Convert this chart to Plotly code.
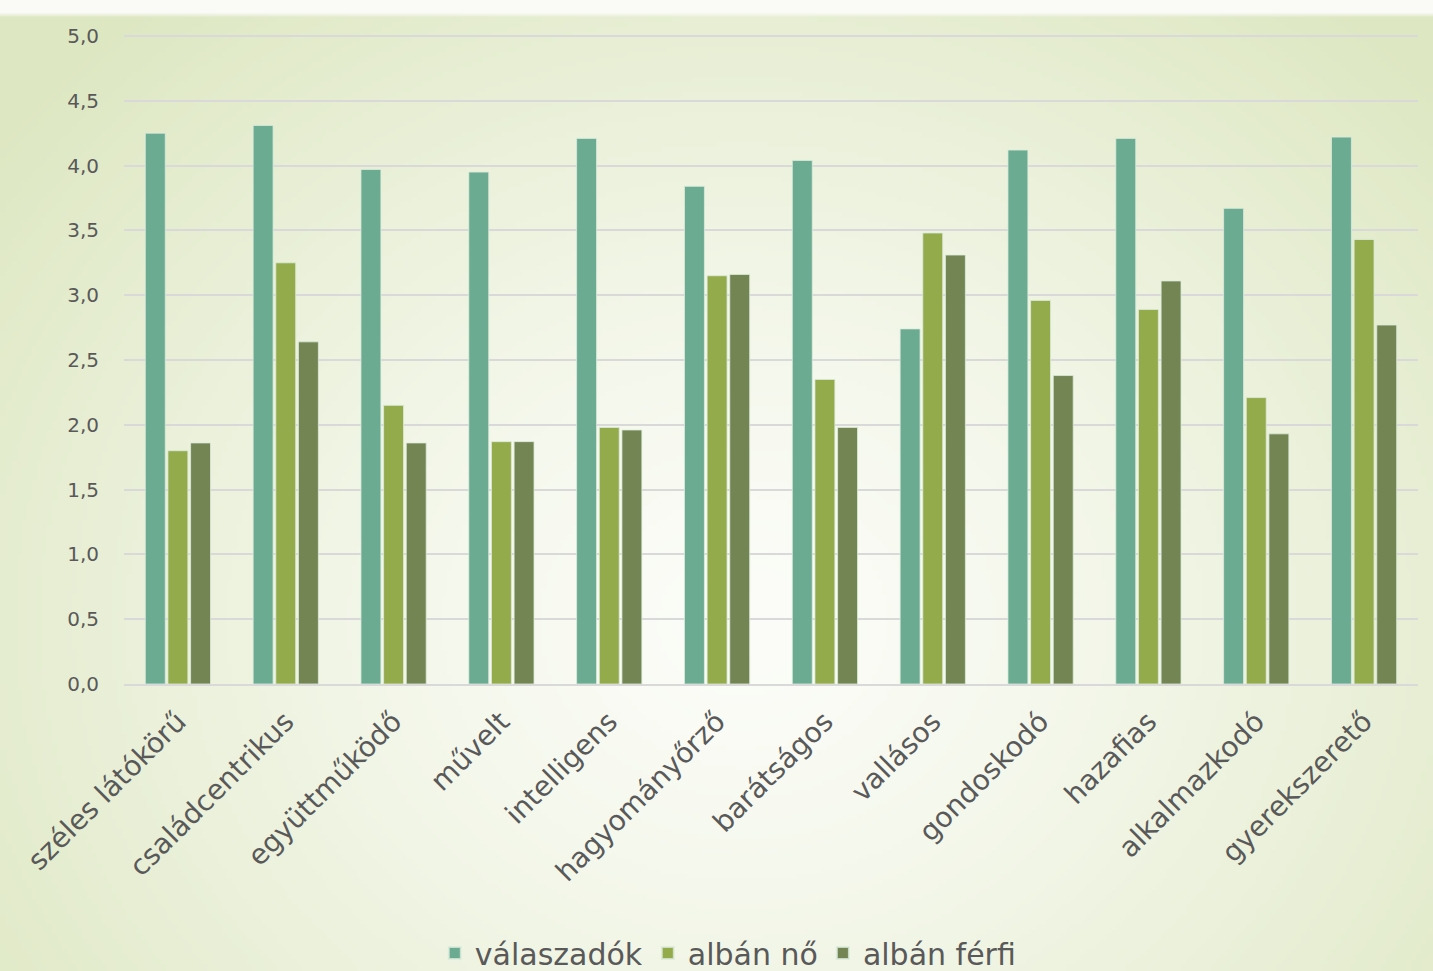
import base64, struct, zlib
import numpy as np
import plotly.graph_objects as go

categories = ["széles látókörű", "családcentrikus", "együttműködő", "művelt", "intelligens",
              "hagyományőrző", "barátságos", "vallásos", "gondoskodó", "hazafias",
              "alkalmazkodó", "gyerekszerető"]
valaszadok = [4.25, 4.31, 3.97, 3.95, 4.21, 3.84, 4.04, 2.74, 4.12, 4.21, 3.67, 4.22]
alban_no = [1.80, 3.25, 2.15, 1.87, 1.98, 3.15, 2.35, 3.48, 2.96, 2.89, 2.21, 3.43]
alban_ferfi = [1.86, 2.64, 1.86, 1.87, 1.96, 3.16, 1.98, 3.31, 2.38, 3.11, 1.93, 2.77]
series_names = ["válaszadók", "albán nő", "albán férfi"]
series_colors = ["#6aab91", "#94ab4c", "#738552"]
y_ticks = [0, 0.5, 1, 1.5, 2, 2.5, 3, 3.5, 4, 4.5, 5]

W, H = 1433, 971
ML, MR, MT, MB = 124, 15, 32, 287


def gradient_png(w, h):
    ys, xs = np.mgrid[0:h, 0:w]
    px = xs * W / w
    py = ys * H / h
    d = np.sqrt(((px - 740) / 950) ** 2 + ((py - 620) / 820) ** 2)
    d = np.clip(d, 0, 1) ** 1.3
    c0 = np.array([252, 253, 249], dtype=float)
    c1 = np.array([221, 231, 193], dtype=float)
    img = c0[None, None, :] * (1 - d[..., None]) + c1[None, None, :] * d[..., None]
    img[py < 10] = np.array([250, 250, 246])
    img = img.astype(np.uint8)
    raw = b"".join(b"\x00" + img[r].tobytes() for r in range(h))

    def chunk(t, data):
        c = struct.pack(">I", len(data)) + t + data
        return c + struct.pack(">I", zlib.crc32(t + data) & 0xFFFFFFFF)

    png = b"\x89PNG\r\n\x1a\n"
    png += chunk(b"IHDR", struct.pack(">IIBBBBB", w, h, 8, 2, 0, 0, 0))
    png += chunk(b"IDAT", zlib.compress(raw, 9))
    png += chunk(b"IEND", b"")
    return "data:image/png;base64," + base64.b64encode(png).decode()


fig = go.Figure()
for name, vals, col in zip(series_names, [valaszadok, alban_no, alban_ferfi], series_colors):
    fig.add_trace(go.Bar(
        x=categories, y=vals, name=name,
        marker=dict(color=col, line=dict(color="rgba(220,235,220,0.8)", width=1)),
    ))

pw = W - ML - MR
ph = H - MT - MB
y_top = 5 * ph / 648.0  # keep 5,0 at the same pixel row as the reference
fig.add_layout_image(dict(
    source=gradient_png(287, 195), xref="paper", yref="paper",
    x=-ML / pw, y=1 + MT / ph, sizex=W / pw, sizey=H / ph,
    xanchor="left", yanchor="top", sizing="stretch", layer="below",
))

font_family = "'DejaVu Sans', sans-serif"
fig.update_layout(
    width=W, height=H,
    margin=dict(l=ML, r=MR, t=MT, b=MB, pad=0, autoexpand=False),
    paper_bgcolor="rgba(0,0,0,0)", plot_bgcolor="rgba(0,0,0,0)",
    barmode="group", bargap=0.37, bargroupgap=0.12,
    separators=", ",
    font=dict(family=font_family, color="#595959"),
    showlegend=True,
    legend=dict(orientation="h", x=0.467, xanchor="center",
                yref="container", y=(H - 953) / H, yanchor="middle",
                font=dict(size=30, color="#595959"), bgcolor="rgba(0,0,0,0)",
                itemsizing="constant"),
    xaxis=dict(tickangle=-45, tickfont=dict(size=28, color="#595959"),
               showline=True, linecolor="#d9d9d9", linewidth=2,
               ticks="outside", ticklen=8, tickcolor="rgba(0,0,0,0)",
               automargin=False),
    yaxis=dict(range=[0, y_top], tickvals=y_ticks,
               tickformat=".1f",
               tickfont=dict(size=20, color="#595959"),
               showgrid=True, gridcolor="#d9d9d9", gridwidth=1.5,
               zeroline=False, showline=False, ticks="outside", ticklen=20,
               tickcolor="rgba(0,0,0,0)", automargin=False),
)

fig.write_html("out.html", config={"displayModeBar": False},
               post_script="document.body.style.margin='0';")
